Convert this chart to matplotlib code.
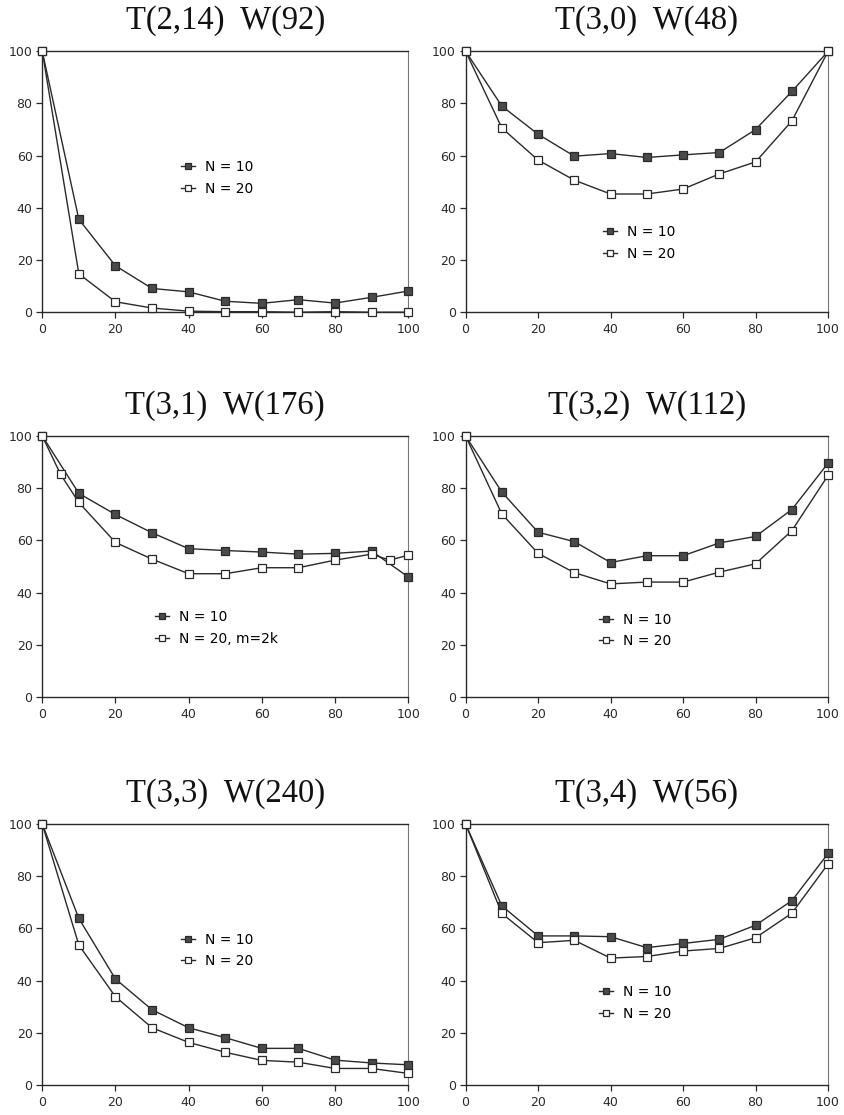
import matplotlib
matplotlib.use("Agg")
import matplotlib.pyplot as plt

x = [0, 10, 20, 30, 40, 50, 60, 70, 80, 90, 100]
x_t31_n20 = [0, 5, 10, 20, 30, 40, 50, 60, 70, 80, 90, 95, 100]

titles = ["T(2,14)  W(92)", "T(3,0)  W(48)",
          "T(3,1)  W(176)", "T(3,2)  W(112)",
          "T(3,3)  W(240)", "T(3,4)  W(56)"]

t214_n10 = [100, 35.6, 17.8, 9.1, 7.8, 4.2, 3.4, 4.8, 3.5, 5.7, 8.1]
t214_n20 = [100, 14.7, 4.0, 1.6, 0.4, 0.2, 0.2, 0.0, 0.2, 0.0, 0.0]

t30_n10 = [100, 79.0, 68.2, 59.8, 60.8, 59.3, 60.3, 61.2, 70.0, 84.6, 100]
t30_n20 = [100, 70.6, 58.3, 50.6, 45.3, 45.3, 47.2, 53.0, 57.6, 73.3, 100]

t31_n10 = [100, 78.0, 69.9, 62.9, 56.8, 56.1, 55.5, 54.7, 55.0, 55.9, 46.0]
t31_n20 = [100, 85.3, 74.5, 59.2, 52.8, 47.2, 47.2, 49.5, 49.5, 52.4, 54.7, 52.4, 54.3]

t32_n10 = [100, 78.5, 63.1, 59.5, 51.5, 54.1, 54.1, 59.0, 61.5, 71.8, 89.6]
t32_n20 = [100, 70.1, 55.0, 47.6, 43.3, 44.0, 44.0, 47.8, 51.0, 63.7, 84.9]

t33_n10 = [100, 63.8, 40.6, 28.8, 21.9, 18.1, 14.0, 14.0, 9.5, 8.4, 7.7]
t33_n20 = [100, 53.6, 33.8, 21.9, 16.3, 12.5, 9.4, 8.7, 6.3, 6.3, 4.4]

t34_n10 = [100, 68.6, 57.1, 57.1, 56.8, 52.6, 54.2, 55.8, 61.2, 70.6, 88.7]
t34_n20 = [100, 65.7, 54.5, 55.4, 48.6, 49.2, 51.3, 52.3, 56.4, 65.8, 84.7]

series = [
    (x, t214_n10, x, t214_n20, "N = 20"),
    (x, t30_n10, x, t30_n20, "N = 20"),
    (x, t31_n10, x_t31_n20, t31_n20, "N = 20, m=2k"),
    (x, t32_n10, x, t32_n20, "N = 20"),
    (x, t33_n10, x, t33_n20, "N = 20"),
    (x, t34_n10, x, t34_n20, "N = 20"),
]

# legend anchor (axes fraction) for each panel
legend_pos = [(0.36, 0.61), (0.36, 0.36), (0.29, 0.36),
              (0.35, 0.35), (0.36, 0.61), (0.35, 0.41)]

# axes rectangles in figure fraction
lefts = [0.050, 0.551]
widths = [0.433, 0.429]
bottoms = [0.720, 0.375, 0.027]
height = 0.234

plt.rcParams["font.family"] = "DejaVu Sans"
fig = plt.figure(figsize=(8.45, 11.15), dpi=100)

ink = "#2a2a2a"
for i, (xa, ya, xb, yb, lab20) in enumerate(series):
    r, c = divmod(i, 2)
    ax = fig.add_axes([lefts[c], bottoms[r], widths[c], height])
    ax.plot(xa, ya, color=ink, lw=1.0, marker="s", ms=5.8,
            mfc="#4a4a4a", mec=ink, mew=0.9, clip_on=False, zorder=3,
            label="N = 10")
    ax.plot(xb, yb, color=ink, lw=1.0, marker="s", ms=5.8,
            mfc="white", mec=ink, mew=0.9, clip_on=False, zorder=4,
            label=lab20)
    ax.set_xlim(0, 100)
    ax.set_ylim(0, 100)
    ax.set_xticks(range(0, 101, 20))
    ax.set_yticks(range(0, 101, 20))
    ax.tick_params(direction="out", length=4, width=0.9, colors=ink,
                   labelsize=9, pad=3)
    ax.tick_params(axis="x", pad=4)
    for side in ["left", "bottom", "top"]:
        ax.spines[side].set_color(ink)
        ax.spines[side].set_linewidth(1.0)
    ax.spines["right"].set_color("#777777")
    ax.spines["right"].set_linewidth(0.8)
    ax.set_title(titles[i], family="Liberation Serif", fontsize=23.5,
                 color="#111111", pad=16)
    ax.legend(loc="upper left", bbox_to_anchor=legend_pos[i], frameon=False,
              fontsize=10, handlelength=1.0, handletextpad=0.7,
              labelspacing=0.55, borderpad=0, markerscale=0.85)

fig.savefig("out.png", dpi=100, facecolor="white")
